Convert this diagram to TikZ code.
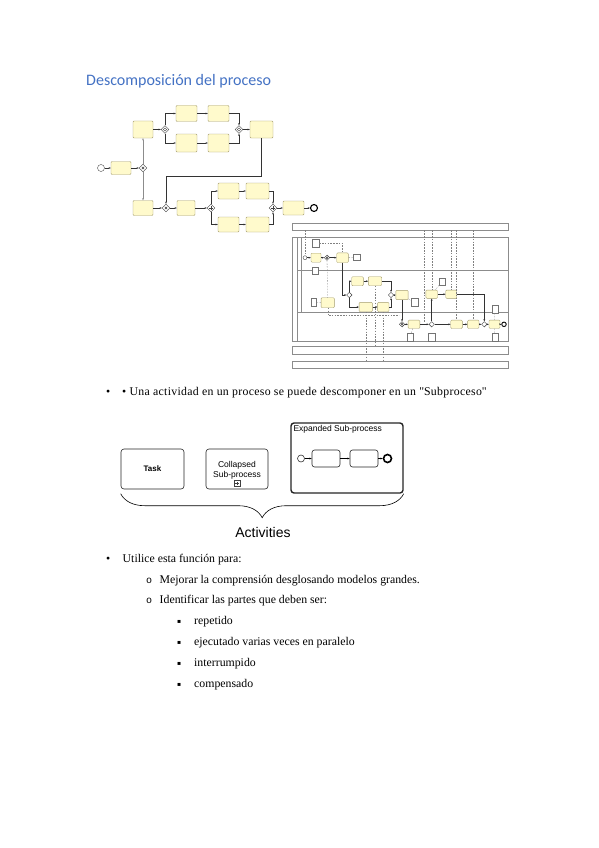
\documentclass[tikz,border=0pt]{standalone}
\usepackage{fontspec}
\setmainfont{Liberation Serif}
\newfontfamily\headfont{Carlito}
\newfontfamily\arialfont{Liberation Sans}
\newfontfamily\symbfont{DejaVu Sans}
\newfontfamily\monofont{Liberation Mono}
\newfontfamily\widefont[LetterSpace=2.6]{Liberation Serif}
\usetikzlibrary{arrows.meta, shapes.geometric, decorations.pathreplacing, calc}
\definecolor{headblue}{RGB}{68,114,196}
\definecolor{taskfill}{RGB}{255,250,204}
\definecolor{taskline}{RGB}{165,158,112}

\begin{document}
\begin{tikzpicture}[
    x=1pt, y=-1pt,
    task/.style={rectangle, draw=taskline, fill=taskfill, rounded corners=1pt, line width=0.4pt, inner sep=0pt, minimum width=21pt, minimum height=16pt},
    gw/.style={diamond, draw=black!75, fill=white, line width=0.4pt, inner sep=0pt, minimum size=8pt},
    xgw/.style={gw, path picture={\draw[line width=0.5pt, shift={(path picture bounding box.center)}] (-1.3pt,-1.3pt) -- (1.3pt,1.3pt) (-1.3pt,1.3pt) -- (1.3pt,-1.3pt);}},
    pgw/.style={gw, path picture={\draw[line width=0.5pt, shift={(path picture bounding box.center)}] (-1.7pt,0pt) -- (1.7pt,0pt) (0pt,-1.7pt) -- (0pt,1.7pt);}},
    ogw/.style={gw, path picture={\draw[line width=0.4pt] (path picture bounding box.center) circle (1.6pt);}},
    evt/.style={circle, draw=black!70, fill=white, line width=0.4pt, inner sep=0pt, minimum size=7pt},
    endevt/.style={evt, draw=black, line width=1.1pt},
    dataobj/.style={rectangle, draw=black!55, fill=white, line width=0.3pt, inner sep=0pt, minimum width=6pt, minimum height=8pt},
    band/.style={rectangle, draw=black!45, line width=0.4pt, inner sep=0pt},
    flow/.style={-{Stealth[length=2.2pt, width=1.8pt]}, line width=0.45pt, black!80},
    msg/.style={dash pattern=on 1.5pt off 1.3pt, line width=0.3pt, black!50},
    act/.style={rectangle, draw=black!85, rounded corners=3pt, line width=0.6pt, inner sep=0pt, align=center, font=\arialfont\fontsize{8.5}{10}\selectfont},
    itm/.style={anchor=base west, inner sep=0pt, font=\fontsize{11.8}{14}\selectfont}
]
    \path[use as bounding box, fill=white] (0,0) rectangle (599,848);

    % Titulo
    \node[anchor=base west, inner sep=0pt, font=\headfont\fontsize{16}{19}\selectfont, text=headblue] (title) at (86,86) {Descomposición del proceso};

    % === Diagrama 1 ===
    \node[evt] (d1start) at (101,168) {};
    \node[task, minimum width=20pt, minimum height=13pt] (d1t1) at (121,168) {};
    \node[xgw] (d1g1) at (143,168) {};
    \node[task, minimum width=20pt, minimum height=17pt] (d1up) at (143,129.5) {};
    \node[task, minimum width=20pt, minimum height=15pt] (d1dn) at (143,208) {};
    \node[ogw] (d1g2) at (165,129.5) {};
    \node[task] (d1a1) at (186.5,113.5) {};
    \node[task] (d1a2) at (218.5,113.5) {};
    \node[task, minimum height=18pt] (d1b1) at (186.5,143) {};
    \node[task, minimum height=18pt] (d1b2) at (218.5,143) {};
    \node[ogw] (d1g3) at (239,129.5) {};
    \node[task, minimum width=23pt, minimum height=17pt] (d1c) at (261.5,129.5) {};
    \coordinate (d1turn) at (261.5,176);
    \node[xgw] (d1g4) at (166,208) {};
    \node[task, minimum width=18pt, minimum height=15pt] (d1d) at (186,208) {};
    \node[pgw] (d1g5) at (211,208) {};
    \node[task] (d1e1) at (228.5,191) {};
    \node[task, minimum width=23pt] (d1e2) at (257.5,191) {};
    \node[task, minimum height=15pt] (d1f1) at (228.5,224.5) {};
    \node[task, minimum width=23pt, minimum height=15pt] (d1f2) at (257.5,224.5) {};
    \node[pgw] (d1g6) at (273,208) {};
    \node[task, minimum height=14pt] (d1g) at (293.5,208) {};
    \node[endevt] (d1end) at (314,208) {};

    \draw[flow] (d1start) -- (d1t1);
    \draw[flow] (d1t1) -- (d1g1);
    \draw[flow, black!45] (d1g1) -- (d1up);
    \draw[flow, black!45] (d1g1) -- (d1dn);
    \draw[flow] (d1up) -- (d1g2);
    \draw[flow] (d1g2) |- (d1a1);
    \draw[flow] (d1g2) |- (d1b1);
    \draw[flow] (d1a1) -- (d1a2);
    \draw[flow] (d1b1) -- (d1b2);
    \draw[flow] (d1a2) -| (d1g3);
    \draw[flow] (d1b2) -| (d1g3);
    \draw[flow] (d1g3) -- (d1c);
    \draw[flow] (d1c) -- (d1turn) -| (d1g4);
    \draw[flow] (d1dn) -- (d1g4);
    \draw[flow] (d1g4) -- (d1d);
    \draw[flow] (d1d) -- (d1g5);
    \draw[flow] (d1g5) |- (d1e1);
    \draw[flow] (d1g5) |- (d1f1);
    \draw[flow] (d1e1) -- (d1e2);
    \draw[flow] (d1f1) -- (d1f2);
    \draw[flow] (d1e2) -| (d1g6);
    \draw[flow] (d1f2) -| (d1g6);
    \draw[flow] (d1g6) -- (d1g);
    \draw[flow] (d1g) -- (d1end);

    % === Diagrama 2: pools y carriles ===
    \node[band, minimum width=216pt, minimum height=7pt] (d2top) at (400,226.7) {};
    \node[band, minimum width=216pt, minimum height=104pt] (d2pool) at (400,289) {};
    \node[band, minimum width=216pt, minimum height=7.3pt] (d2bot1) at (400,350.3) {};
    \node[band, minimum width=216pt, minimum height=7pt] (d2bot2) at (400,364.5) {};
    \draw[black!45, line width=0.4pt] (297,237) -- (297,341) (301,237) -- (301,312)
        (297,270) -- (508,270) (297,312) -- (508,312);

    % carril 1
    \node[evt, minimum size=4pt] (d2start) at (305,257.7) {};
    \node[task, minimum width=10pt, minimum height=9pt] (d2a) at (316,257.7) {};
    \node[xgw, minimum size=5.5pt] (d2g1) at (327,257.7) {};
    \node[task, minimum width=11.6pt, minimum height=9.6pt] (d2b) at (342.5,257.7) {};
    \node[dataobj, minimum width=6.7pt] (d2do1) at (315.7,243.3) {};
    \node[dataobj, minimum width=6.7pt, minimum height=6pt] (d2do2) at (356.7,257.5) {};
    \node[dataobj, minimum height=7.6pt] (d2do3) at (315.3,270.5) {};

    % carril 2
    \node[gw, minimum size=5.5pt] (d2g2) at (349.3,295) {};
    \node[task, minimum width=11.6pt, minimum height=9pt] (d2c) at (357.5,281.2) {};
    \node[task, minimum width=13.4pt, minimum height=9pt] (d2d) at (375,281.2) {};
    \node[task, minimum width=13.3pt, minimum height=9.4pt] (d2f) at (365.7,307) {};
    \node[task, minimum width=11.3pt, minimum height=9.4pt] (d2g) at (383.3,307) {};
    \node[gw, minimum size=5.5pt] (d2g3) at (391,295) {};
    \node[task, minimum width=12.3pt, minimum height=9.3pt] (d2e) at (402,295) {};
    \node[dataobj, minimum width=6.7pt] (d2do4) at (414.3,302.5) {};
    \node[task, minimum width=13.3pt, minimum height=10pt] (d2n) at (327.7,302.7) {};
    \node[dataobj, minimum width=5.7pt, minimum height=7.4pt] (d2do6) at (313.7,302) {};
    \node[task, minimum width=11.6pt, minimum height=8.3pt] (d2l) at (431.7,294.2) {};
    \node[task, minimum width=11pt, minimum height=8.3pt] (d2m) at (451.2,294.2) {};
    \node[dataobj, minimum height=6.7pt] (d2do5) at (442,281.7) {};

    % carril 3
    \node[xgw, minimum size=5.5pt] (d2g4) at (402,324.3) {};
    \node[task, minimum width=11.7pt, minimum height=8.3pt] (d2h) at (414,324.3) {};
    \node[gw, minimum size=5.5pt] (d2g5) at (431.7,324.3) {};
    \node[task, minimum width=11.6pt, minimum height=8.3pt] (d2i) at (456.5,324.3) {};
    \node[task, minimum width=11.3pt, minimum height=8.3pt] (d2j) at (473.3,324.3) {};
    \node[gw, minimum size=5.5pt] (d2g6) at (484.3,324.3) {};
    \node[task, minimum width=11pt, minimum height=8.3pt] (d2k) at (494.5,324.3) {};
    \node[endevt, minimum size=4.5pt, line width=0.9pt] (d2end) at (504,324.3) {};
    \node[dataobj, minimum width=6.7pt] (d2do7) at (410,337.5) {};
    \node[dataobj, minimum width=6.7pt] (d2do8) at (431.7,337.5) {};
    \node[dataobj, minimum width=6.7pt] (d2do9) at (495,337.2) {};
    \node[dataobj, minimum width=6.7pt] (d2do10) at (495,309) {};
    \coordinate (d2assoc) at (399,315);
    \coordinate (d2m1) at (424.3,322);

    \draw[flow] (d2start) -- (d2a);
    \draw[flow] (d2a) -- (d2g1);
    \draw[flow] (d2g1) -- (d2b);
    \draw[flow] (d2b) |- (d2g2);
    \draw[flow] (d2g2) |- (d2c);
    \draw[flow] (d2g2) |- (d2f);
    \draw[flow] (d2c) -- (d2d);
    \draw[flow] (d2f) -- (d2g);
    \draw[flow] (d2d) -| (d2g3);
    \draw[flow] (d2g) -| (d2g3);
    \draw[flow] (d2g3) -- (d2e);
    \draw[flow] (d2e) -- (d2g4);
    \draw[flow] (d2g4) -- (d2h);
    \draw[flow] (d2h) -- (d2g5);
    \draw[flow] (d2g5) -- (d2i);
    \draw[flow] (d2g5) -- (d2l);
    \draw[flow] (d2l) -- (d2m);
    \draw[flow] (d2i) -- (d2j);
    \draw[flow] (d2j) -- (d2g6);
    \draw[flow] (d2m) -| (d2g6);
    \draw[flow] (d2g6) -- (d2k);
    \draw[flow] (d2k) -- (d2end);

    % asociaciones y mensajes
    \draw[msg] (d2do1) -| (d2b);
    \draw[msg] (d2b) -- (d2do2);
    \draw[msg] (d2g1) -- (d2n);
    \draw[msg] (d2n) |- (d2assoc);
    \draw[msg] (d2do6) -- (d2n);
    \draw[msg] (d2e) -- (d2do4);
    \draw[msg] (d2h) -- (d2do7);
    \draw[msg] (d2do5) -- (d2l);
    \draw[msg] (d2k) -- (d2do9);
    \draw[msg] (d2do10) -- (d2k);
    \draw[msg] (d2top.south -| d2start) -- (d2start);
    \draw[msg] (d2top.south -| d2m1) -- (d2m1);
    \draw[msg] (d2top.south -| d2l) -- (d2l);
    \draw[msg] (d2top.south -| d2m) -- (d2m);
    \draw[msg] (d2top.south -| d2i) -- (d2i);
    \draw[msg] (d2top.south -| d2j) -- (d2j);
    \draw[msg] (d2f) -- (d2f |- d2bot2.north);
    \draw[msg] (d2g) -- (d2g |- d2bot2.north);
    \draw[msg] (d2d) -- (d2d |- d2bot1.north);

    % === Texto ===
    \node[itm] (b1dot) at (106,395.5) {•};
    \node[itm, font=\widefont\fontsize{11.8}{14}\selectfont] (b1) at (122,395.5) {• Una actividad en un proceso se puede descomponer en un \textquotedbl Subproceso\textquotedbl};

    % === Actividades ===
    \node[act, minimum width=63pt, minimum height=40pt, font=\arialfont\bfseries\fontsize{8}{9}\selectfont] (task) at (152.5,469) {Task};
    \node[act, minimum width=62pt, minimum height=40pt] (collapsed) at (237,469) {};
    \node[align=center, inner sep=0pt, font=\arialfont\fontsize{8.5}{10}\selectfont] (collapsedtxt) at (237,470) {Collapsed\\Sub-process};
    \node[pgw, rectangle, minimum size=6pt] (plusmark) at (237,483.5) {};
    \node[act, line width=1.4pt, minimum width=112pt, minimum height=70pt] (expanded) at (347,458) {};
    \node[anchor=north west, inner sep=3pt, font=\arialfont\fontsize{8.5}{10}\selectfont] (exptitle) at (expanded.north west) {Expanded Sub-process};
    \node[evt, draw=black!80, line width=0.6pt] (xstart) at (301,458.5) {};
    \node[act, rounded corners=2.5pt, minimum width=28pt, minimum height=17pt] (xt1) at (326,458.5) {};
    \node[act, rounded corners=2.5pt, minimum width=28pt, minimum height=17pt] (xt2) at (364,458.5) {};
    \node[endevt, minimum size=8pt, line width=1.6pt] (xend) at (387.5,458.5) {};
    \draw[flow, black] (xstart) -- (xt1);
    \draw[flow, black] (xt1) -- (xt2);
    \draw[flow, black] (xt2) -- (xend);
    \draw[decorate, decoration={brace, mirror, amplitude=24pt}, line width=0.6pt] (task.west |- expanded.south) -- (expanded.south east);
    \node[font=\arialfont\fontsize{14}{16}\selectfont] (actlabel) at (263,532) {Activities};

    % === Lista ===
    \node[itm] (b2dot) at (106,562.5) {•};
    \node[itm] (b2) at (122.5,562.5) {Utilice esta función para:};
    \node[itm, font=\monofont\fontsize{10}{12}\selectfont] (s1dot) at (146,583) {o};
    \node[itm] (s1) at (159.5,583) {Mejorar la comprensión desglosando modelos grandes.};
    \node[itm, font=\monofont\fontsize{10}{12}\selectfont] (s2dot) at (146,603.5) {o};
    \node[itm] (s2) at (159.5,603.5) {Identificar las partes que deben ser:};
    \foreach \txt [count=\i] in {repetido, ejecutado varias veces en paralelo, interrumpido, compensado} {
        \node[itm, font=\symbfont\fontsize{6}{8}\selectfont] (q\i dot) at (177,602.5+20.9*\i) {▪};
        \node[itm] (q\i) at (194,603.5+20.9*\i) {\txt};
    }
\end{tikzpicture}
\end{document}
